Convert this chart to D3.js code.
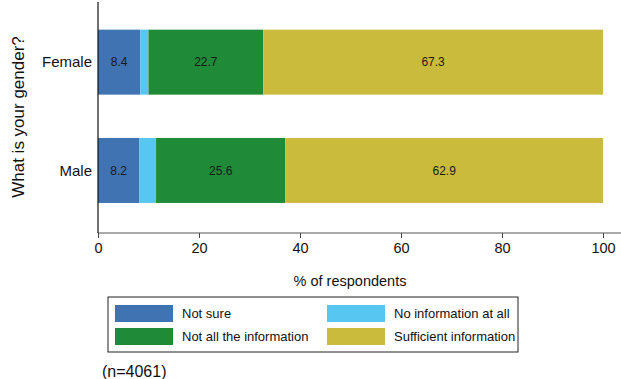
<!DOCTYPE html>
<html>
<head>
<meta charset="utf-8">
<script src="https://cdn.jsdelivr.net/npm/d3@7"></script>
<style>
  body { margin: 0; background: #fff; }
  text { font-family: "Liberation Sans", Arial, sans-serif; }
</style>
</head>
<body>
<div id="chart"></div>
<script>
// data
const groups = ["Female", "Male"];
const seriesNames = ["Not sure", "No information at all", "Not all the information", "Sufficient information"];
const notSure = [8.4, 8.2];
const noInfo = [1.6, 3.3];
const notAll = [22.7, 25.6];
const sufficient = [67.3, 62.9];
const xTicks = [0, 20, 40, 60, 80, 100];
const colors = ["#3f73b1", "#57c6f0", "#1f8a37", "#cabb3d"];
const showLabel = [true, false, true, true];

const width = 621, height = 379;
const svg = d3.select("#chart").append("svg")
  .attr("width", width)
  .attr("height", height);

const x = d3.scaleLinear().domain([0, 100]).range([98, 603]);
const y = d3.scaleBand().domain(groups).range([8, 224.6]).paddingInner(0.4).paddingOuter(0.2);

// stack the series
const rows = groups.map((g, i) => ({
  group: g,
  "Not sure": notSure[i],
  "No information at all": noInfo[i],
  "Not all the information": notAll[i],
  "Sufficient information": sufficient[i]
}));
const stacked = d3.stack().keys(seriesNames)(rows);

const layer = svg.append("g")
  .selectAll("g")
  .data(stacked)
  .join("g")
  .attr("fill", (d, i) => colors[i]);

layer.selectAll("rect")
  .data(d => d)
  .join("rect")
  .attr("x", d => x(d[0]))
  .attr("y", d => y(d.data.group))
  .attr("width", d => x(d[1]) - x(d[0]))
  .attr("height", y.bandwidth());

// value labels inside bars
stacked.forEach((s, i) => {
  if (!showLabel[i]) return;
  svg.append("g")
    .selectAll("text")
    .data(s)
    .join("text")
    .attr("x", d => (x(d[0]) + x(d[1])) / 2)
    .attr("y", d => y(d.data.group) + y.bandwidth() / 2)
    .attr("dy", "0.35em")
    .attr("text-anchor", "middle")
    .style("font-size", "12px")
    .attr("fill", "#1a1a1a")
    .text(d => (d[1] - d[0]).toFixed(1));
});

// x axis
const xAxis = svg.append("g")
  .attr("transform", "translate(0,233)")
  .call(d3.axisBottom(x).tickValues(xTicks).tickSize(5).tickPadding(5));
xAxis.select(".domain").remove();
xAxis.selectAll("line").attr("stroke", "#444");
xAxis.selectAll("text").style("font-size", "14.5px").attr("fill", "#111");
svg.append("line")
  .attr("x1", 98).attr("x2", 621)
  .attr("y1", 233).attr("y2", 233)
  .attr("stroke", "#555").attr("stroke-width", 1.2);

// y axis
svg.append("line")
  .attr("x1", 98).attr("x2", 98)
  .attr("y1", 2).attr("y2", 233)
  .attr("stroke", "#111").attr("stroke-width", 1.2);
svg.append("g")
  .selectAll("text")
  .data(groups)
  .join("text")
  .attr("x", 92)
  .attr("y", d => y(d) + y.bandwidth() / 2)
  .attr("dy", "0.35em")
  .attr("text-anchor", "end")
  .style("font-size", "15px")
  .attr("fill", "#111")
  .text(d => d);

// axis titles
svg.append("text")
  .attr("x", 350).attr("y", 286)
  .attr("text-anchor", "middle")
  .style("font-size", "14.5px")
  .attr("fill", "#111")
  .text("% of respondents");
svg.append("text")
  .attr("transform", "translate(24,117) rotate(-90)")
  .attr("text-anchor", "middle")
  .style("font-size", "17px")
  .attr("fill", "#111")
  .text("What is your gender?");

// legend
const legend = svg.append("g");
legend.append("rect")
  .attr("x", 108).attr("y", 297)
  .attr("width", 410).attr("height", 55)
  .attr("fill", "none").attr("stroke", "#222").attr("stroke-width", 1);
const legendPos = [[115, 305], [327, 305], [115, 328], [327, 328]];
seriesNames.forEach((name, i) => {
  const [lx, ly] = legendPos[i];
  legend.append("rect")
    .attr("x", lx).attr("y", ly)
    .attr("width", 58).attr("height", 17)
    .attr("fill", colors[i]);
  legend.append("text")
    .attr("x", lx + 67).attr("y", ly + 8.5)
    .attr("dy", "0.35em")
    .style("font-size", "13px")
    .attr("fill", "#111")
    .text(name);
});

svg.append("text")
  .attr("x", 102).attr("y", 371)
  .attr("dy", "0.35em")
  .style("font-size", "16px")
  .attr("fill", "#111")
  .text("(n=4061)");
</script>
</body>
</html>
